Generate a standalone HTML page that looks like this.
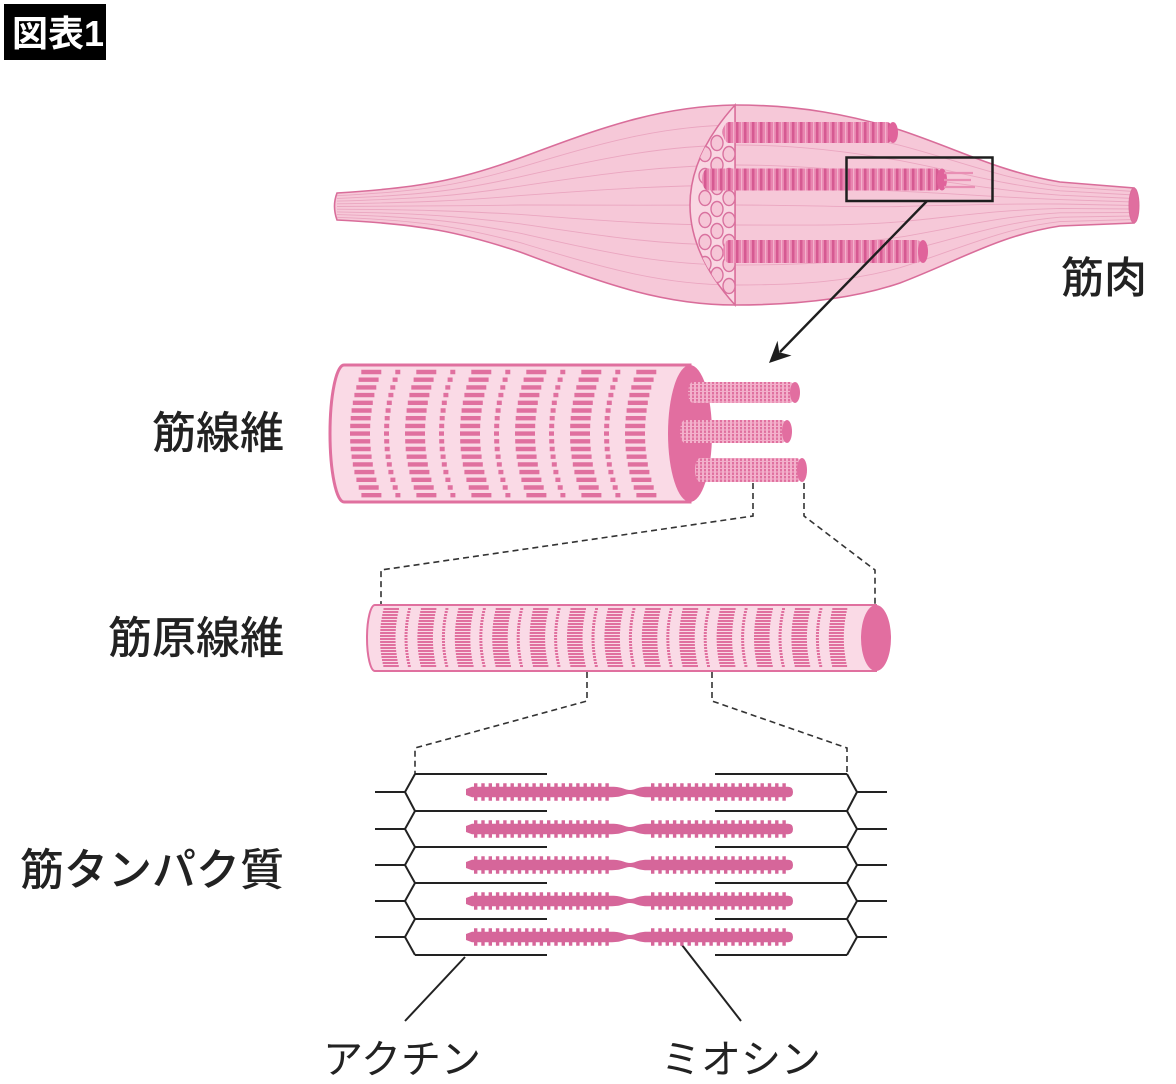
<!DOCTYPE html>
<html><head><meta charset="utf-8"><style>
html,body{margin:0;padding:0;background:#fff;}
svg{display:block;}
text{font-family:"Liberation Sans","Noto Sans CJK JP",sans-serif;}
</style></head><body>
<svg width="1176" height="1084" viewBox="0 0 1176 1084" xmlns="http://www.w3.org/2000/svg">
<defs>
  <pattern id="fibStripe" patternUnits="userSpaceOnUse" width="8" height="40">
    <rect width="8" height="40" fill="#e985b0"/>
    <rect x="0" width="2.5" height="40" fill="#d65a92"/>
    <rect x="5" width="1.2" height="40" fill="#f3b2cc"/>
  </pattern>
  <pattern id="mfStripe" patternUnits="userSpaceOnUse" width="4" height="3.5">
    <rect width="4" height="3.5" fill="#f3b0cb"/>
    <rect x="0" width="2" height="2.4" fill="#e0709f"/>
  </pattern>
  <clipPath id="xsec"><path d="M735,105 Q645,205 735,305 Z"/></clipPath>
  <clipPath id="fibClip"><path d="M690,365 L344,365 A14,68.5 0 0 0 344,502 L690,502 Z"/></clipPath>
  <clipPath id="mfClip"><path d="M876,605 L375,605 A8,33 0 0 0 375,671 L876,671 Z"/></clipPath>
  <g id="myosin">
    <path d="M466,-3 L472,-5.2 L612,-5.2 C622,-5.2 625,-2 630,-2 C635,-2 638,-5.2 647,-5.2 L788,-5.2 Q793,-5.2 793,0 Q793,5.2 788,5.2 L647,5.2 C638,5.2 635,2 630,2 C625,2 622,5.2 612,5.2 L472,5.2 L466,3 Z" fill="#d6669a"/>
    <line x1="474" y1="-6.8" x2="609" y2="-6.8" stroke="#d6669a" stroke-width="4" stroke-dasharray="3.4 3.9"/>
    <line x1="474" y1="6.8" x2="609" y2="6.8" stroke="#d6669a" stroke-width="4" stroke-dasharray="3.4 3.9"/>
    <line x1="651" y1="-6.8" x2="788" y2="-6.8" stroke="#d6669a" stroke-width="4" stroke-dasharray="3.4 3.9"/>
    <line x1="651" y1="6.8" x2="788" y2="6.8" stroke="#d6669a" stroke-width="4" stroke-dasharray="3.4 3.9"/>
  </g>
</defs>
<rect width="1176" height="1084" fill="#fff"/>

<!-- header -->
<rect x="4" y="4" width="102" height="56" fill="#000"/>
<text x="12" y="46" font-size="36" font-weight="bold" fill="#fff">図表1</text>

<!-- muscle -->
<path d="M337,193 C420,188 460,180 520,158 C600,128 660,106 735,105 C800,105 850,115 900,130 C960,150 1000,172 1060,182 L1134,188 L1134,223 L1060,226 C1000,235 960,260 900,283 C850,300 790,305 735,305 C660,305 600,282 520,252 C460,232 420,224 337,220 Q332,206 337,193 Z" fill="#f6c8d8" stroke="#d96d9a" stroke-width="1.6"/>
<g fill="none" stroke="#eaa6c0" stroke-width="0.9">
  <path d="M337,195.7 C420,191.6 460,185.2 520,167.4 C600,143.4 660,125.9 735,125"/>
  <path d="M337,198.4 C420,195.2 460,190.4 520,176.8 C600,158.8 660,145.8 735,145"/>
  <path d="M337,201.1 C420,198.8 460,195.6 520,186.2 C600,174.2 660,165.7 735,165"/>
  <path d="M337,203.8 C420,202.4 460,200.8 520,195.6 C600,189.6 660,185.6 735,185"/>
  <path d="M337,206.5 C420,206 460,206 520,205 C600,205 660,205.5 735,205"/>
  <path d="M337,209.2 C420,209.6 460,211.2 520,214.4 C600,220.4 660,225.4 735,225"/>
  <path d="M337,211.9 C420,213.2 460,216.4 520,223.8 C600,235.8 660,245.3 735,245"/>
  <path d="M337,214.6 C420,216.8 460,221.6 520,233.2 C600,251.2 660,265.2 735,265"/>
  <path d="M337,217.3 C420,220.4 460,226.8 520,242.6 C600,266.6 660,285.1 735,285"/>
  <path d="M735,125 C800,125 850,133.5 900,145.3 C960,161 1000,178.3 1060,186.4 L1134,191.5"/>
  <path d="M735,145 C800,145 850,152 900,160.6 C960,172 1000,184.6 1060,190.8 L1134,195"/>
  <path d="M735,165 C800,165 850,170.5 900,175.9 C960,183 1000,190.9 1060,195.2 L1134,198.5"/>
  <path d="M735,185 C800,185 850,189 900,191.2 C960,194 1000,197.2 1060,199.6 L1134,202"/>
  <path d="M735,205 C800,205 850,207.5 900,206.5 C960,205 1000,203.5 1060,204 L1134,205.5"/>
  <path d="M735,225 C800,225 850,226 900,221.8 C960,216 1000,209.8 1060,208.4 L1134,209"/>
  <path d="M735,245 C800,245 850,244.5 900,237.1 C960,227 1000,216.1 1060,212.8 L1134,212.5"/>
  <path d="M735,265 C800,265 850,263 900,252.4 C960,238 1000,222.4 1060,217.2 L1134,216"/>
  <path d="M735,285 C800,285 850,281.5 900,267.7 C960,249 1000,228.7 1060,221.6 L1134,219.5"/>
</g>
<ellipse cx="1134" cy="205.5" rx="5" ry="17.5" fill="#e06e9f" stroke="#d96d9a" stroke-width="1"/>
<line x1="735" y1="105" x2="735" y2="305" stroke="#d96d9a" stroke-width="1.4"/>
<path d="M735,105 Q645,205 735,305 Z" fill="#f9d6e2" stroke="#d96d9a" stroke-width="1.5"/>
<g clip-path="url(#xsec)" fill="#f6c6d7" stroke="#d9729f" stroke-width="1.4">
  <ellipse cx="717" cy="143" rx="6" ry="7.5"/><ellipse cx="717" cy="165" rx="6" ry="7.5"/>
  <ellipse cx="717" cy="187" rx="6" ry="7.5"/><ellipse cx="717" cy="209" rx="6" ry="7.5"/>
  <ellipse cx="717" cy="231" rx="6" ry="7.5"/><ellipse cx="717" cy="253" rx="6" ry="7.5"/>
  <ellipse cx="717" cy="275" rx="6" ry="7.5"/>
  <ellipse cx="705" cy="154" rx="6" ry="7.5"/><ellipse cx="705" cy="176" rx="6" ry="7.5"/>
  <ellipse cx="705" cy="198" rx="6" ry="7.5"/><ellipse cx="705" cy="220" rx="6" ry="7.5"/>
  <ellipse cx="705" cy="242" rx="6" ry="7.5"/><ellipse cx="705" cy="264" rx="6" ry="7.5"/>
  <ellipse cx="729" cy="132" rx="6" ry="7.5"/><ellipse cx="729" cy="154" rx="6" ry="7.5"/>
  <ellipse cx="729" cy="176" rx="6" ry="7.5"/><ellipse cx="729" cy="198" rx="6" ry="7.5"/>
  <ellipse cx="729" cy="220" rx="6" ry="7.5"/><ellipse cx="729" cy="242" rx="6" ry="7.5"/>
  <ellipse cx="729" cy="264" rx="6" ry="7.5"/><ellipse cx="729" cy="286" rx="6" ry="7.5"/>
</g>
<!-- muscle fibers -->
<rect x="723" y="122" width="170" height="21" rx="6" ry="10.5" fill="url(#fibStripe)"/>
<ellipse cx="893" cy="132.5" rx="5" ry="10.5" fill="#e0639b"/>
<rect x="702" y="168.5" width="240" height="22" rx="6" ry="11" fill="url(#fibStripe)"/>
<ellipse cx="942" cy="179.5" rx="5" ry="11" fill="#e0639b"/>
<g stroke="#e98fb4" stroke-width="2.2">
  <line x1="944" y1="173" x2="973" y2="173"/>
  <line x1="944" y1="180" x2="971" y2="180"/>
  <line x1="944" y1="187" x2="975" y2="187"/>
</g>
<rect x="723" y="240" width="200" height="23" rx="6" ry="11.5" fill="url(#fibStripe)"/>
<ellipse cx="923" cy="251.5" rx="5" ry="11.5" fill="#e0639b"/>

<!-- zoom rect and arrow -->
<rect x="846.5" y="157.5" width="146" height="43.5" fill="none" stroke="#1e1e1e" stroke-width="2.5"/>
<line x1="927" y1="201" x2="780" y2="352" stroke="#1e1e1e" stroke-width="2.4"/>
<path d="M769,363 L791.5,355.5 L779.2,352.3 L777.5,340.8 Z" fill="#1e1e1e"/>

<!-- labels -->
<g fill="#222" font-size="44" font-weight="500">
  <text x="1061" y="293" font-size="43">筋肉</text>
  <text x="284" y="448" text-anchor="end">筋線維</text>
  <text x="284" y="653" text-anchor="end">筋原線維</text>
  <text x="284" y="885" text-anchor="end">筋タンパク質</text>
</g>
<g fill="#222" font-size="40">
  <text x="323" y="1073">アクチン</text>
  <text x="661" y="1073">ミオシン</text>
</g>

<!-- muscle fiber -->
<path d="M690,365 L344,365 A14,68.5 0 0 0 344,502 L690,502 Z" fill="#fadae6" stroke="#e0709f" stroke-width="3"/>
<g clip-path="url(#fibClip)" stroke="#e0709f" stroke-width="4.4" stroke-dasharray="20 14 5 16">
  <line x1="361.3" y1="372" x2="656.3" y2="372"/>
  <line x1="358.6" y1="379.7" x2="653.6" y2="379.7"/>
  <line x1="356.3" y1="387.4" x2="651.3" y2="387.4"/>
  <line x1="354.4" y1="395.1" x2="649.4" y2="395.1"/>
  <line x1="352.8" y1="402.8" x2="647.8" y2="402.8"/>
  <line x1="351.6" y1="410.5" x2="646.6" y2="410.5"/>
  <line x1="350.7" y1="418.2" x2="645.7" y2="418.2"/>
  <line x1="350.2" y1="425.9" x2="645.2" y2="425.9"/>
  <line x1="350" y1="433.6" x2="645" y2="433.6"/>
  <line x1="350.2" y1="441.3" x2="645.2" y2="441.3"/>
  <line x1="350.7" y1="449" x2="645.7" y2="449"/>
  <line x1="351.6" y1="456.7" x2="646.6" y2="456.7"/>
  <line x1="352.8" y1="464.4" x2="647.8" y2="464.4"/>
  <line x1="354.4" y1="472.1" x2="649.4" y2="472.1"/>
  <line x1="356.4" y1="479.8" x2="651.4" y2="479.8"/>
  <line x1="358.7" y1="487.5" x2="653.7" y2="487.5"/>
  <line x1="361.4" y1="495.2" x2="656.4" y2="495.2"/>
</g>
<ellipse cx="690" cy="433.5" rx="22" ry="68.5" fill="#e26ea0"/>
<!-- myofibrils sticking out -->
<rect x="688" y="382" width="107" height="21" rx="5" ry="10.5" fill="url(#mfStripe)"/>
<ellipse cx="795" cy="392.5" rx="5" ry="10.5" fill="#e26ea0"/>
<rect x="680" y="420" width="107" height="23" rx="5" ry="11.5" fill="url(#mfStripe)"/>
<ellipse cx="787" cy="431.5" rx="5" ry="11.5" fill="#e26ea0"/>
<rect x="695" y="458" width="107" height="24" rx="5" ry="12" fill="url(#mfStripe)"/>
<ellipse cx="802" cy="470" rx="5" ry="12" fill="#e26ea0"/>

<!-- dashed connectors -->
<g fill="none" stroke="#333" stroke-width="1.6" stroke-dasharray="6 4">
  <path d="M753,483 L753,516 L381,570 L381,606"/>
  <path d="M804,483 L804,516 L875,570 L875,606"/>
  <path d="M587,672 L587,701 L415,748 L415,774"/>
  <path d="M712,672 L712,701 L847,748 L847,774"/>
</g>

<!-- myofibril -->
<path d="M876,605 L375,605 A8,33 0 0 0 375,671 L876,671 Z" fill="#fadae6" stroke="#e0709f" stroke-width="2"/>
<g clip-path="url(#mfClip)" stroke="#e0709f" stroke-width="2" stroke-dasharray="15.5 9 3 9.9">
  <line x1="383.5" y1="609" x2="847.3" y2="609"/>
  <line x1="382.8" y1="612" x2="846.6" y2="612"/>
  <line x1="382.2" y1="615" x2="846" y2="615"/>
  <line x1="381.7" y1="618" x2="845.5" y2="618"/>
  <line x1="381.2" y1="621" x2="845" y2="621"/>
  <line x1="380.8" y1="624" x2="844.6" y2="624"/>
  <line x1="380.5" y1="627" x2="844.3" y2="627"/>
  <line x1="380.3" y1="630" x2="844.1" y2="630"/>
  <line x1="380.1" y1="633" x2="843.9" y2="633"/>
  <line x1="380" y1="636" x2="843.8" y2="636"/>
  <line x1="380" y1="639" x2="843.8" y2="639"/>
  <line x1="380.1" y1="642" x2="843.9" y2="642"/>
  <line x1="380.2" y1="645" x2="844" y2="645"/>
  <line x1="380.4" y1="648" x2="844.2" y2="648"/>
  <line x1="380.7" y1="651" x2="844.5" y2="651"/>
  <line x1="381.1" y1="654" x2="844.9" y2="654"/>
  <line x1="381.5" y1="657" x2="845.3" y2="657"/>
  <line x1="382" y1="660" x2="845.8" y2="660"/>
  <line x1="382.6" y1="663" x2="846.4" y2="663"/>
  <line x1="383.3" y1="666" x2="847.1" y2="666"/>
</g>
<ellipse cx="876" cy="638" rx="15" ry="33" fill="#e26ea0"/>

<!-- proteins -->
<g fill="none" stroke="#222" stroke-width="2">
  <polyline points="415,774 405,792 415,811 405,829 415,847 405,865 415,883 405,901 415,919 405,937 415,955"/>
  <polyline points="847,774 857,792 847,811 857,829 847,847 857,865 847,883 857,901 847,919 857,937 847,955"/>
  <path d="M415,774 H547 M415,811 H547 M415,847 H547 M415,883 H547 M415,919 H547 M415,955 H547"/>
  <path d="M715,774 H847 M715,811 H847 M715,847 H847 M715,883 H847 M715,919 H847 M715,955 H847"/>
  <path d="M375,792 H405 M375,829 H405 M375,865 H405 M375,901 H405 M375,937 H405"/>
  <path d="M857,792 H887 M857,829 H887 M857,865 H887 M857,901 H887 M857,937 H887"/>
  <path d="M405,1021 L465,957"/>
  <path d="M741,1021 L682,945"/>
</g>
<use href="#myosin" transform="translate(0,792)"/>
<use href="#myosin" transform="translate(0,829)"/>
<use href="#myosin" transform="translate(0,865)"/>
<use href="#myosin" transform="translate(0,901)"/>
<use href="#myosin" transform="translate(0,937)"/>
</svg>
</body></html>
